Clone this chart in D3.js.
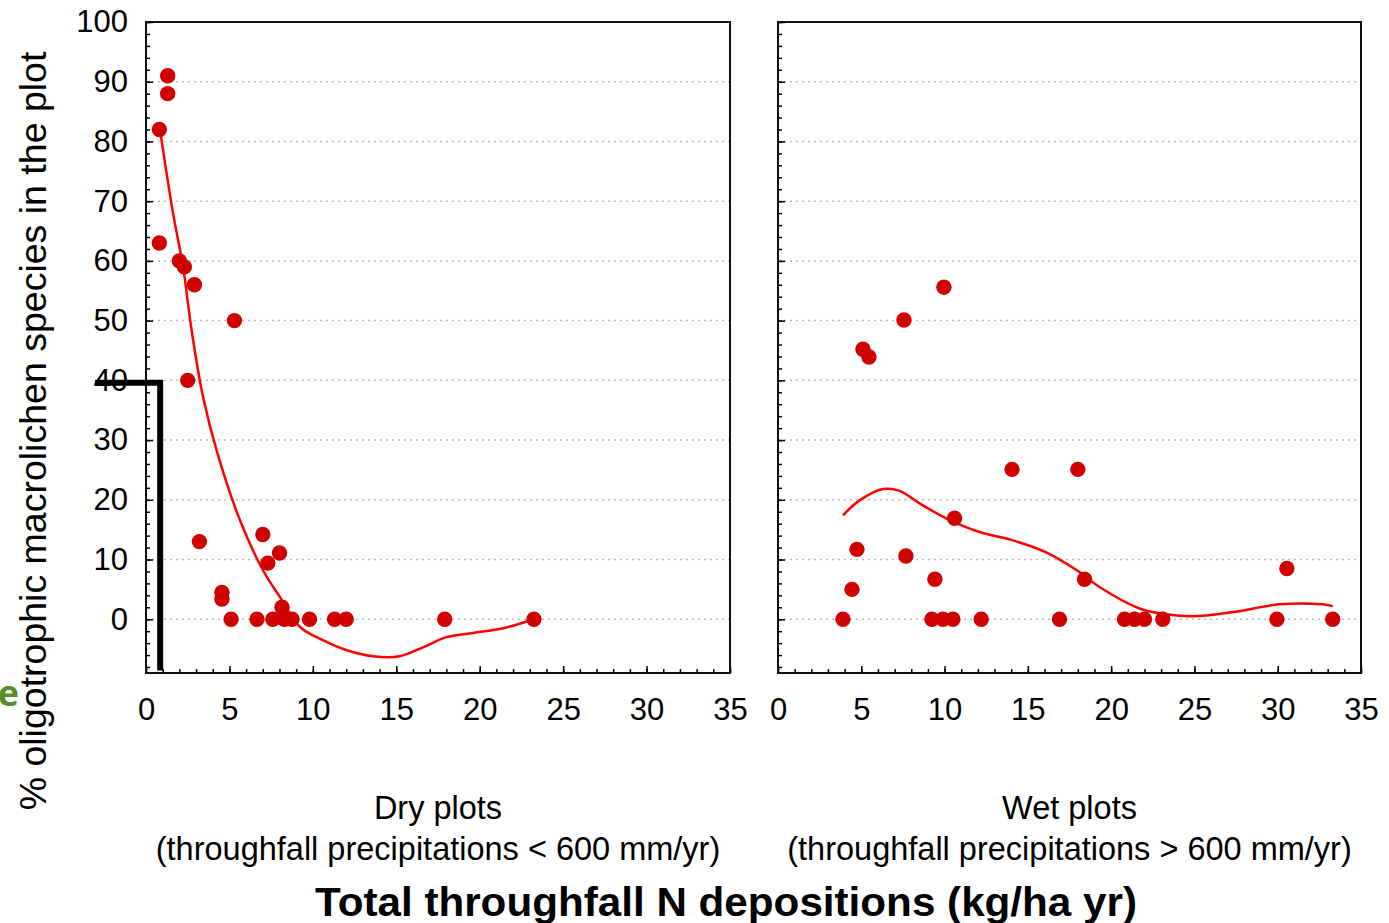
<!DOCTYPE html>
<html>
<head>
<meta charset="utf-8">
<script src="https://cdnjs.cloudflare.com/ajax/libs/d3/7.8.5/d3.min.js"></script>
<style>
  body { margin: 0; background: #fff; }
  svg { display: block; }
  .tick text { font-family: "Liberation Sans", Arial, sans-serif; font-size: 31px; fill: #000; }
  .domain { display: none; }
  .tick line { stroke: #000; stroke-width: 1.5; }
</style>
</head>
<body>
<div id="chart"></div>
<script>
// dry plots (throughfall precipitations < 600 mm/yr)
var dryN = [0.8, 1.3, 1.3, 0.8, 2.0, 2.3, 2.9, 5.3, 2.5, 3.2, 7.0, 8.0, 7.3, 4.55, 4.55,
            5.1, 6.65, 7.6, 8.15, 8.3, 8.75, 9.8, 11.3, 12.0, 17.9, 23.25];
var dryPct = [82, 88, 91, 63, 60, 59, 56, 50, 40, 13, 14.2, 11.1, 9.4, 4.5, 3.4,
              0, 0, 0, 2, 0, 0, 0, 0, 0, 0, 0];
var dryFitN = [0.84, 1.62, 2.22, 2.76, 3.42, 4.3, 5.63, 7.01, 8.03, 9.23, 10.6,
               12.04, 13.6, 15.2, 16.6, 18.0, 19.6, 21.4, 23.25];
var dryFitPct = [81.9, 68, 59, 47.9, 37.2, 27.6, 16.6, 8.2, 3.7, -1.3, -3.5,
                 -5.2, -6.2, -6.2, -4.7, -3.0, -2.3, -1.5, 0];

// wet plots (throughfall precipitations > 600 mm/yr)
var wetN = [9.96, 7.56, 5.1, 5.46, 14.05, 18.0, 10.6, 4.74, 7.68, 9.42, 4.44, 3.9,
            9.24, 9.9, 10.5, 12.2, 16.9, 18.4, 20.8, 21.4, 22.0, 23.1, 29.95, 30.55, 33.3];
var wetPct = [55.6, 50.1, 45.2, 43.9, 25.1, 25.1, 16.9, 11.7, 10.6, 6.7, 5.0, 0,
              0, 0, 0, 0, 0, 6.7, 0, 0, 0, 0, 0, 8.5, 0];
var wetFitN = [3.9, 4.9, 6.3, 7.3, 8.5, 10.1, 12.1, 14.1, 16.1, 18.1, 19.3, 21.7,
               22.9, 24.9, 27.3, 30.1, 32.7, 33.3];
var wetFitPct = [17.4, 19.9, 21.8, 21.5, 19.4, 16.9, 14.6, 13.2, 11.2, 7.9, 5.4, 1.8,
                 1.0, 0.5, 1.2, 2.5, 2.5, 2.2];

var xTicks = [0, 5, 10, 15, 20, 25, 30, 35];
var yTicks = [0, 10, 20, 30, 40, 50, 60, 70, 80, 90, 100];
var panelTitles = [
  ["Dry plots", "(throughfall precipitations < 600 mm/yr)"],
  ["Wet plots", "(throughfall precipitations > 600 mm/yr)"]
];
var yLabel = "% oligotrophic macrolichen species in the plot";
var xLabel = "Total throughfall N depositions (kg/ha yr)";

// callout drawn over the left axis (data units of the dry panel)
var calloutN = [-3.05, 0.85, 0.85];
var calloutPct = [39.6, 39.6, -8.6];

var width = 1389, height = 923;
var plotTop = 22, plotBottom = 673;
var panels = [
  {x0: 146, x1: 730, n: dryN, pct: dryPct, fitN: dryFitN, fitPct: dryFitPct, title: panelTitles[0], labels: true},
  {x0: 778, x1: 1361, n: wetN, pct: wetPct, fitN: wetFitN, fitPct: wetFitPct, title: panelTitles[1], labels: false}
];

var svg = d3.select('#chart')
    .append('svg')
    .attr('width', width)
    .attr('height', height);

var y = d3.scaleLinear().domain([-9, 100]).range([plotBottom, plotTop]);

panels.forEach(function (p) {
    var x = d3.scaleLinear().domain([0, 35]).range([p.x0, p.x1]);
    p.x = x;

    // dotted grid
    svg.append('g')
        .selectAll('line')
        .data(yTicks)
        .enter()
        .append('line')
        .attr('x1', p.x0)
        .attr('x2', p.x1)
        .attr('y1', function (d) { return y(d); })
        .attr('y2', function (d) { return y(d); })
        .attr('stroke', '#bdbdbd')
        .attr('stroke-width', 1.5)
        .attr('stroke-dasharray', '2,4');

    // minor ticks
    svg.append('g')
        .attr('transform', 'translate(' + p.x0 + ',0)')
        .call(d3.axisLeft(y).tickValues(d3.range(-8, 101, 2)).tickSize(-4).tickFormat(''));
    svg.append('g')
        .attr('transform', 'translate(0,' + plotBottom + ')')
        .call(d3.axisBottom(x).tickValues(d3.range(0, 36, 1)).tickSize(-4).tickFormat(''));

    // major ticks
    svg.append('g')
        .attr('transform', 'translate(' + p.x0 + ',0)')
        .call(d3.axisLeft(y).tickValues(yTicks).tickSize(-7).tickPadding(18)
              .tickFormat(p.labels ? d3.format('d') : ''));
    svg.append('g')
        .attr('transform', 'translate(0,' + plotBottom + ')')
        .call(d3.axisBottom(x).tickValues(xTicks).tickSize(-7).tickPadding(25)
              .tickFormat(d3.format('d')));

    // frame
    svg.append('rect')
        .attr('x', p.x0)
        .attr('y', plotTop)
        .attr('width', p.x1 - p.x0)
        .attr('height', plotBottom - plotTop)
        .attr('fill', 'none')
        .attr('stroke', '#111')
        .attr('stroke-width', 2);

    // fitted curve
    var line = d3.line()
        .x(function (d, i) { return x(p.fitN[i]); })
        .y(function (d) { return y(d); })
        .curve(d3.curveCatmullRom.alpha(0.5));
    svg.append('path')
        .datum(p.fitPct)
        .attr('d', line)
        .attr('fill', 'none')
        .attr('stroke', '#ff0000')
        .attr('stroke-width', 2.5);

    // points
    svg.append('g')
        .selectAll('circle')
        .data(p.pct)
        .enter()
        .append('circle')
        .attr('cx', function (d, i) { return x(p.n[i]); })
        .attr('cy', function (d) { return y(d); })
        .attr('r', 7.7)
        .attr('fill', '#d00000');

    // panel title
    var cx = (p.x0 + p.x1) / 2;
    svg.append('text')
        .attr('x', cx)
        .attr('y', 819)
        .attr('text-anchor', 'middle')
        .style('font-family', '"Liberation Sans", Arial, sans-serif')
        .style('font-size', '32.5px')
        .text(p.title[0]);
    svg.append('text')
        .attr('x', cx)
        .attr('y', 860)
        .attr('text-anchor', 'middle')
        .style('font-family', '"Liberation Sans", Arial, sans-serif')
        .style('font-size', '32.5px')
        .text(p.title[1]);
});

// y axis label
svg.append('text')
    .attr('transform', 'translate(46,431) rotate(-90)')
    .attr('text-anchor', 'middle')
    .style('font-family', '"Liberation Sans", Arial, sans-serif')
    .style('font-size', '37.5px')
    .text(yLabel);

// x axis label
svg.append('text')
    .attr('x', 726)
    .attr('y', 916)
    .attr('text-anchor', 'middle')
    .attr('textLength', 822)
    .attr('lengthAdjust', 'spacingAndGlyphs')
    .style('font-family', '"Liberation Sans", Arial, sans-serif')
    .style('font-size', '40px')
    .style('font-weight', 'bold')
    .text(xLabel);

// leftover letter at the left edge
svg.append('text')
    .attr('x', 19)
    .attr('y', 706)
    .attr('text-anchor', 'end')
    .style('font-family', '"Open Sans", sans-serif')
    .style('font-size', '36px')
    .style('font-weight', 'bold')
    .attr('fill', '#5a8a2a')
    .text('e');

// black callout bracket
var dx = panels[0].x;
svg.append('path')
    .datum(calloutPct)
    .attr('d', d3.line()
        .x(function (d, i) { return dx(calloutN[i]); })
        .y(function (d) { return y(d); }))
    .attr('fill', 'none')
    .attr('stroke', '#000')
    .attr('stroke-width', 6);
</script>
</body>
</html>
